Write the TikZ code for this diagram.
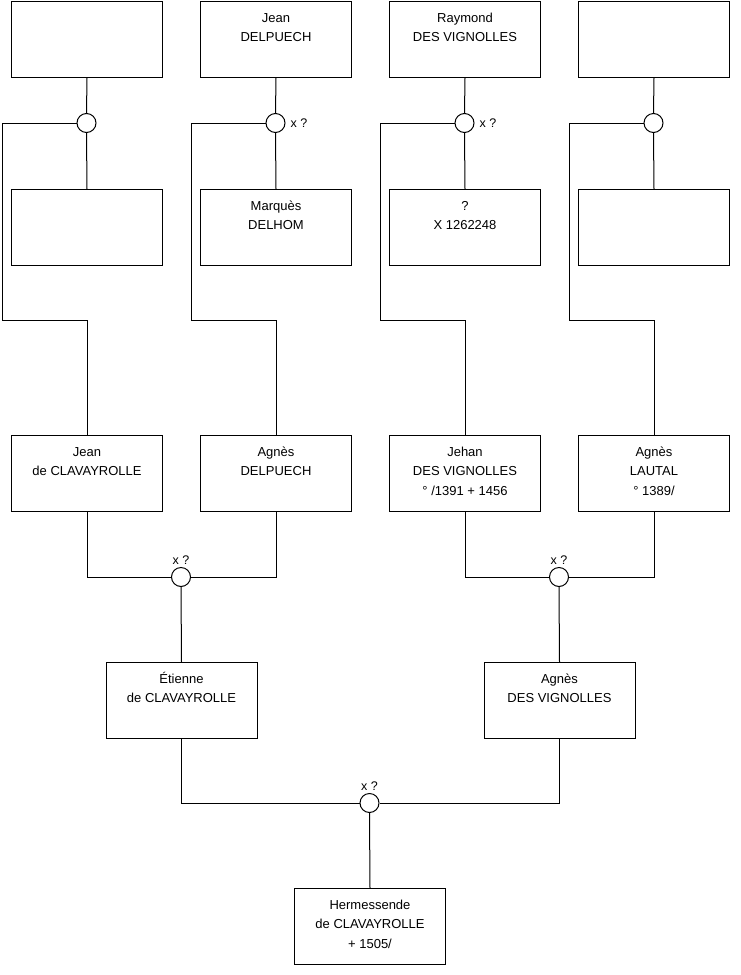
\documentclass[tikz,border=0pt]{standalone}
\usepackage{fontspec}
\setmainfont{Liberation Sans}
\newcommand\perstext[1]{\parbox[t][76pt][t]{151pt}{\centering\rule{0pt}{20.5pt}#1}}
\begin{document}
\begin{tikzpicture}[x=1pt,y=-1pt,
  person/.style={draw=black, line width=1pt, inner sep=0pt, anchor=north west,
    font=\fontsize{13pt}{19.5pt}\selectfont},
  union/.style={draw=black, line width=1pt, circle, minimum size=19pt, inner sep=0pt, fill=white},
  link/.style={draw=black, line width=1pt},
  mar/.style={font=\fontsize{12.5pt}{15pt}\selectfont, inner sep=1pt}]
\useasboundingbox (0,0) rectangle (740,975);
% row 1
\node[person] (a1) at (11,1) {\perstext{}};
\node[person] (a2) at (200,1) {\perstext{Jean\\DELPUECH}};
\node[person] (a3) at (389,1) {\perstext{Raymond\\DES VIGNOLLES}};
\node[person] (a4) at (578,1) {\perstext{}};
% row 2
\node[person] (b1) at (11,189) {\perstext{}};
\node[person] (b2) at (200,189) {\perstext{Marquès\\DELHOM}};
\node[person] (b3) at (389,189) {\perstext{?\\X 1262248}};
\node[person] (b4) at (578,189) {\perstext{}};
% row 3
\node[person] (p1) at (11,435) {\perstext{Jean\\de CLAVAYROLLE}};
\node[person] (p2) at (200,435) {\perstext{Agnès\\DELPUECH}};
\node[person] (p3) at (389,435) {\perstext{Jehan\\DES VIGNOLLES\\° /1391 + 1456}};
\node[person] (p4) at (578,435) {\perstext{Agnès\\LAUTAL\\° 1389/}};
% row 4
\node[person] (e1) at (105.5,662) {\perstext{Étienne\\de CLAVAYROLLE}};
\node[person] (e2) at (483.5,662) {\perstext{Agnès\\DES VIGNOLLES}};
% row 5
\node[person] (h) at (294,888) {\perstext{Hermessende\\de CLAVAYROLLE\\+ 1505/}};
% unions
\node[union] (c1) at (86.5,123) {};
\node[union] (c2) at (275.5,123) {};
\node[union] (c3) at (464.5,123) {};
\node[union] (c4) at (653.5,123) {};
\node[union] (c5) at (181,577) {};
\node[union] (c6) at (559,577) {};
\node[union] (c7) at (369.5,803) {};
% marriage labels
\node[mar, anchor=west] (m2) at ([xshift=4pt]c2.east) {x ?};
\node[mar, anchor=west] (m3) at ([xshift=4pt]c3.east) {x ?};
\node[mar, anchor=south] (m5) at ([yshift=1pt]c5.north) {x ?};
\node[mar, anchor=south] (m6) at ([yshift=1pt]c6.north) {x ?};
\node[mar, anchor=south] (m7) at ([yshift=1pt]c7.north) {x ?};
% waypoints
\coordinate (k1) at (2,320);
\coordinate (k2) at (191,320);
\coordinate (k3) at (380,320);
\coordinate (k4) at (569,320);
% top couples
\foreach \i in {1,2,3,4}{
  \draw[link] (a\i.south) -- (c\i.north);
  \draw[link] (c\i.south) -- (b\i.north);
  \draw[link] (c\i.west) -| (k\i) -| (p\i.north);
}
% row 3 couples
\draw[link] (p1.south) |- (c5.west);
\draw[link] (p2.south) |- (c5.east);
\draw[link] (c5.south) -- (e1.north);
\draw[link] (p3.south) |- (c6.west);
\draw[link] (p4.south) |- (c6.east);
\draw[link] (c6.south) -- (e2.north);
% row 4 couple
\draw[link] (e1.south) |- (c7.west);
\draw[link] (e2.south) |- (c7.east);
\draw[link] (c7.south) -- (h.north);
\end{tikzpicture}
\end{document}
